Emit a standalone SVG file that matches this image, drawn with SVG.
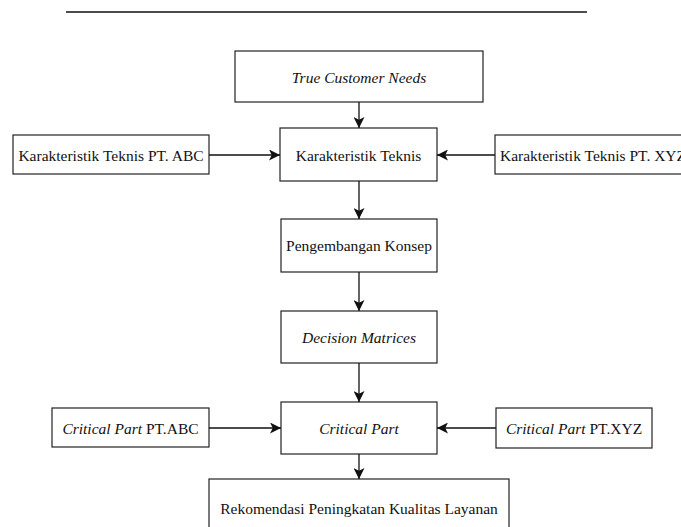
<svg xmlns="http://www.w3.org/2000/svg" width="681" height="527" viewBox="0 0 681 527">
<style>
.box{fill:#fff;stroke:#222;stroke-width:1.2}
.t{font-family:"Liberation Serif","Times New Roman",serif;font-size:15.5px;fill:#111;text-anchor:middle;dominant-baseline:central}
.i{font-style:italic}
.c{fill:none;stroke:#111;stroke-width:1.3}
</style>
<defs>
<marker id="arr" markerUnits="userSpaceOnUse" markerWidth="11" markerHeight="11" viewBox="0 0 10 10" refX="10" refY="5" orient="auto">
<path d="M0,0 L10,5 L0,10 L2.5,5 z" fill="#111"/>
</marker>
</defs>
<line x1="66" y1="12" x2="587" y2="12" stroke="#111" stroke-width="1.4"/>
<g id="n-tcn"><rect class="box" x="235" y="51" width="248" height="51"/><text class="t i" x="359" y="77">True Customer Needs</text></g>
<g id="n-kt"><rect class="box" x="280" y="128" width="157" height="53"/><text class="t" x="358.5" y="155">Karakteristik Teknis</text></g>
<g id="n-ktabc"><rect class="box" x="13" y="135" width="196" height="39"/><text class="t" x="111" y="155">Karakteristik Teknis PT. ABC</text></g>
<g id="n-ktxyz"><rect class="box" x="495" y="135" width="196" height="39"/><text class="t" x="593" y="155">Karakteristik Teknis PT. XYZ</text></g>
<g id="n-pk"><rect class="box" x="281" y="219" width="156" height="53"/><text class="t" x="359" y="245.5">Pengembangan Konsep</text></g>
<g id="n-dm"><rect class="box" x="281" y="311" width="156" height="52"/><text class="t i" x="359" y="337">Decision Matrices</text></g>
<g id="n-cp"><rect class="box" x="281" y="402" width="156" height="52"/><text class="t i" x="359" y="428">Critical Part</text></g>
<g id="n-cpabc"><rect class="box" x="52" y="408" width="157" height="39"/><text class="t" x="130.5" y="428"><tspan class="i">Critical Part</tspan> PT.ABC</text></g>
<g id="n-cpxyz"><rect class="box" x="496" y="408" width="156" height="40"/><text class="t" x="574" y="428"><tspan class="i">Critical Part</tspan> PT.XYZ</text></g>
<g id="n-rek"><rect class="box" x="209" y="479" width="300" height="60"/><text class="t" x="359" y="508">Rekomendasi Peningkatan Kualitas Layanan</text></g>
<g id="connectors">
<line class="c" x1="359" y1="102" x2="359" y2="128" marker-end="url(#arr)"/>
<line class="c" x1="209" y1="155" x2="280" y2="155" marker-end="url(#arr)"/>
<line class="c" x1="495" y1="155" x2="437" y2="155" marker-end="url(#arr)"/>
<line class="c" x1="359" y1="181" x2="359" y2="219" marker-end="url(#arr)"/>
<line class="c" x1="359" y1="272" x2="359" y2="311" marker-end="url(#arr)"/>
<line class="c" x1="359" y1="363" x2="359" y2="402" marker-end="url(#arr)"/>
<line class="c" x1="209" y1="428" x2="281" y2="428" marker-end="url(#arr)"/>
<line class="c" x1="496" y1="428" x2="437" y2="428" marker-end="url(#arr)"/>
<line class="c" x1="359" y1="454" x2="359" y2="479" marker-end="url(#arr)"/>
</g>
</svg>
